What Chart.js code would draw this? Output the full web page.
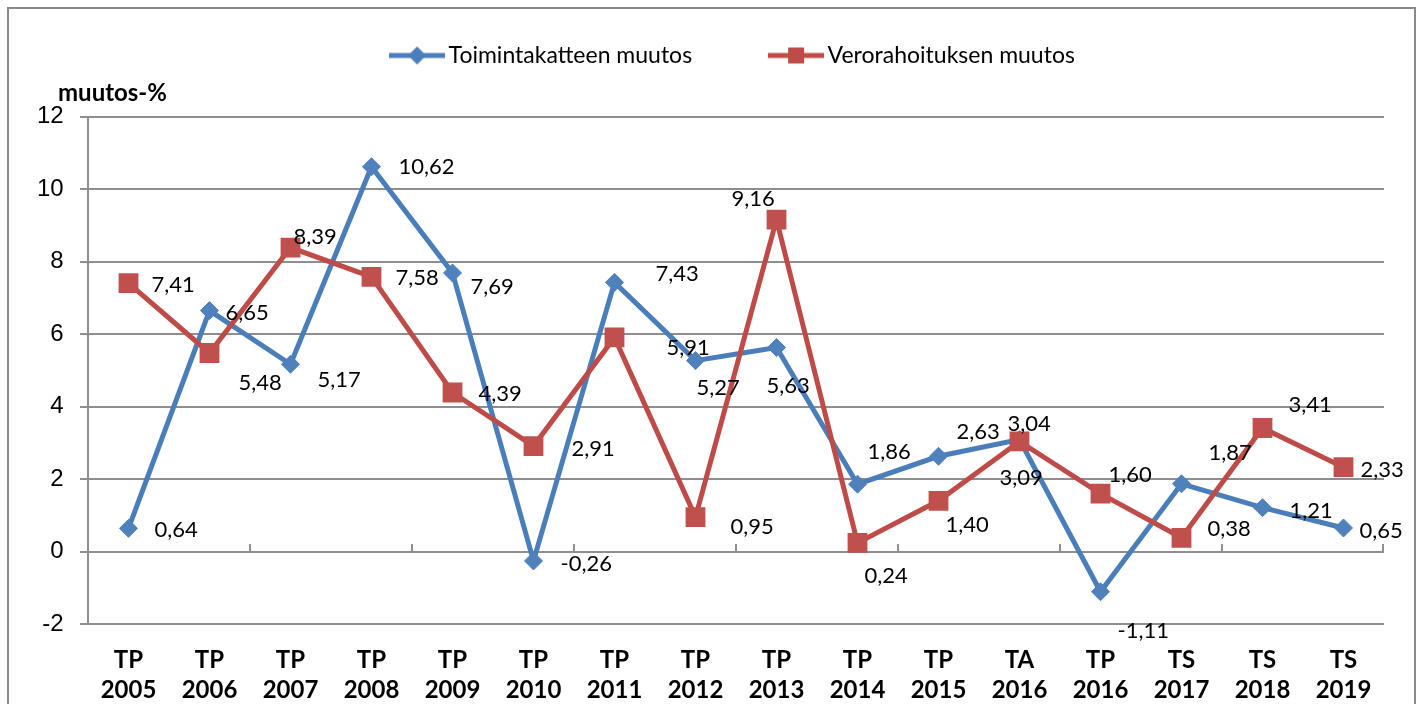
<!DOCTYPE html>
<html><head><meta charset="utf-8">
<script src="https://cdn.jsdelivr.net/npm/chart.js@4.4.0/dist/chart.umd.min.js"></script>
<style>html,body{margin:0;padding:0;background:#fff;overflow:hidden}#wrap{width:1418px;height:704px;position:relative}</style>
</head><body><div id="wrap"><canvas id="c" width="1418" height="704"></canvas></div>
<script>
// ---- data ----
const types = ['TP','TP','TP','TP','TP','TP','TP','TP','TP','TP','TP','TA','TP','TS','TS','TS'];
const years = ['2005','2006','2007','2008','2009','2010','2011','2012','2013','2014','2015','2016','2016','2017','2018','2019'];
const toimintakate = [0.64,6.65,5.17,10.62,7.69,-0.26,7.43,5.27,5.63,1.86,2.63,3.09,-1.11,1.87,1.21,0.65];
const verorahoitus = [7.41,5.48,8.39,7.58,4.39,2.91,5.91,0.95,9.16,0.24,1.40,3.04,1.60,0.38,3.41,2.33];
const seriesNames = ['Toimintakatteen muutos','Verorahoituksen muutos'];
const yAxisTitle = 'muutos-%';
const yTickMin = -2, yTickMax = 12, yTickStep = 2;

// ---- label placement (style: offset of label left edge / vertical centre from its point) ----
const labelOffsetsA = [[26,2],[16,2],[27,16],[27,0],[18,14],[27,3],[41,-8],[1,27],[-10,38],[10,-32],[18,-24],[-20,38],[17,39],[27,-31],[27,3],[16,3]];
const labelOffsetsB = [[23,2],[29,30],[3,-11],[24,1],[26,1],[38,3],[52,10],[35,10],[-45,-21],[7,33],[7,24],[-12,-18],[8,-19],[26,-9],[26,-23],[17,3]];

const BLUE = '#4A7EBB', BLUE_M = '#4F81BD', RED = '#BE4B48', RED_M = '#C0504D';
const GRID = '#8e8e8e';

function legendIcon(color, style) {
  const c = document.createElement('canvas'); c.width = 56; c.height = 20;
  const g = c.getContext('2d');
  g.strokeStyle = color; g.lineWidth = 5;
  g.beginPath(); g.moveTo(0, 10); g.lineTo(56, 10); g.stroke();
  g.fillStyle = color;
  if (style === 'diamond') {
    g.beginPath(); g.moveTo(28, 1); g.lineTo(37, 10); g.lineTo(28, 19); g.lineTo(19, 10); g.closePath(); g.fill();
  } else {
    g.fillRect(20, 2, 16, 16);
  }
  return c;
}

const frame = {
  id: 'frame',
  beforeDraw(chart) {
    const ctx = chart.ctx;
    ctx.save();
    ctx.fillStyle = '#fff'; ctx.fillRect(0, 0, chart.width, chart.height);
    ctx.strokeStyle = '#8a8a8a'; ctx.lineWidth = 2;
    ctx.strokeRect(8, 8, 1407, 720);
    ctx.restore();
  },
  beforeDatasetsDraw(chart) {
    const xs = chart.scales.x, ys = chart.scales.y, ctx = chart.ctx;
    const y0 = Math.round(ys.getPixelForValue(0));
    ctx.save(); ctx.strokeStyle = GRID; ctx.lineWidth = 2;
    for (let k = 2; k <= types.length; k += 2) {
      const x = k < types.length ? (xs.getPixelForValue(k - 1) + xs.getPixelForValue(k)) / 2 : chart.chartArea.right - 1;
      ctx.beginPath(); ctx.moveTo(Math.round(x), y0 - 8); ctx.lineTo(Math.round(x), y0); ctx.stroke();
    }
    ctx.restore();
  },
  afterDatasetsDraw(chart) {
    const ctx = chart.ctx;
    ctx.save();
    ctx.font = '22px Lato'; ctx.fillStyle = '#000'; ctx.textAlign = 'left'; ctx.textBaseline = 'middle';
    [[0, toimintakate, labelOffsetsA], [1, verorahoitus, labelOffsetsB]].forEach(([di, vals, offs]) => {
      chart.getDatasetMeta(di).data.forEach((pt, i) => {
        const t = vals[i].toFixed(2).replace('.', ',');
        ctx.fillText(t, pt.x + offs[i][0], pt.y + offs[i][1]);
      });
    });
    ctx.restore();
  }
};

function build() {
  const icons = [legendIcon(BLUE, 'diamond'), legendIcon(RED, 'square')];
  new Chart(document.getElementById('c'), {
    type: 'line',
    data: {
      labels: types.map((t, i) => [t, years[i]]),
      datasets: [
        { label: seriesNames[0], data: toimintakate, borderColor: BLUE, backgroundColor: BLUE_M,
          borderWidth: 5, pointStyle: 'rectRot', pointRadius: 9, pointBorderWidth: 1, pointBorderColor: BLUE_M,
          pointBackgroundColor: BLUE_M, tension: 0, order: 2 },
        { label: seriesNames[1], data: verorahoitus, borderColor: RED, backgroundColor: RED_M,
          borderWidth: 5, pointStyle: 'rect', pointRadius: 14, pointBorderWidth: 0, pointBorderColor: RED_M,
          pointBackgroundColor: RED_M, tension: 0, order: 1 }
      ]
    },
    options: {
      responsive: false, devicePixelRatio: 1, animation: false,
      layout: { padding: { left: 58, right: 34, top: -40, bottom: 0 } },
      plugins: {
        tooltip: { enabled: false },
        legend: {
          position: 'top', fullSize: false,
          labels: {
            color: '#000', font: { family: 'Lato', size: 23 }, padding: 84,
            usePointStyle: true, pointStyleWidth: 40,
            sort: (a, b) => a.datasetIndex - b.datasetIndex,
            generateLabels(chart) {
              const items = Chart.defaults.plugins.legend.labels.generateLabels(chart);
              items.forEach(it => { it.pointStyle = icons[it.datasetIndex]; it.lineWidth = 0; });
              return items;
            }
          }
        },
        title: {
          display: true, text: yAxisTitle, align: 'start', position: 'top', weight: 500,
          color: '#000', font: { family: 'Lato', size: 24, weight: 'bold', lineHeight: 1.2 }, padding: { top: 2, bottom: 9 }
        }
      },
      scales: {
        x: {
          type: 'category', offset: true,
          grid: { display: false, drawTicks: false },
          border: { display: false },
          ticks: { color: '#000', font: { family: 'Lato', size: 24, weight: 'bold', lineHeight: 1.25 }, padding: 21, maxRotation: 0, autoSkip: false },
          afterFit(s) { s.height = 80; }
        },
        y: {
          min: yTickMin, max: yTickMax,
          ticks: { stepSize: yTickStep, color: '#000', font: { family: "'Liberation Sans', Arial", size: 24 },
                   mirror: true, crossAlign: 'far', padding: -51,
                   callback: v => String(v) },
          grid: { color: GRID, lineWidth: 2, tickLength: 8, tickColor: GRID },
          border: { display: true, color: GRID, width: 2 },
          afterFit(s) { s.width = 30; }
        }
      }
    },
    plugins: [frame]
  });
}

Promise.all([
  document.fonts.load('22px Lato'), document.fonts.load('bold 23px Lato'), document.fonts.load('24px "Liberation Sans"')
]).then(build, build);
</script>
</body></html>
